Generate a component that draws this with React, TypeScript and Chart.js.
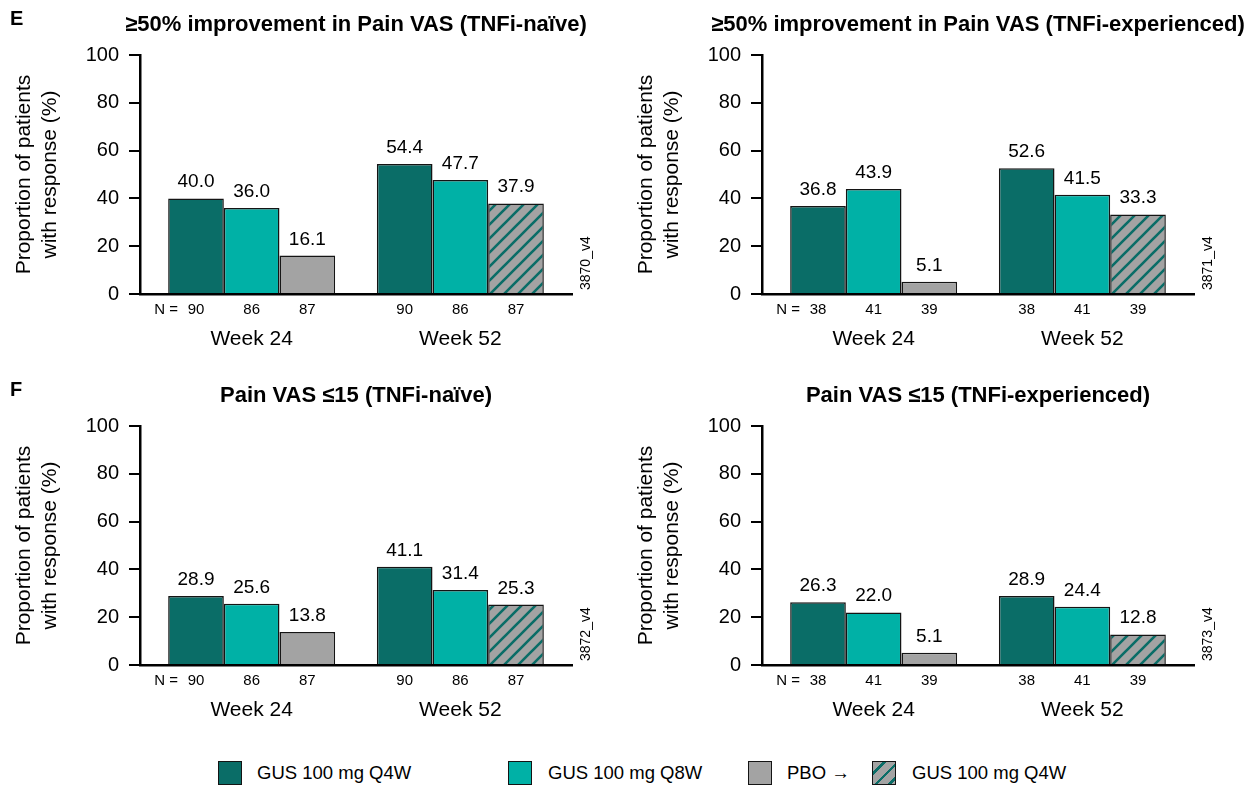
import React, { useEffect, useRef } from 'react';
import { Chart, registerables } from 'chart.js';

Chart.register(...registerables);

// ---------- data ----------
const weeks = ['Week 24', 'Week 52'];
const seriesNames = ['GUS 100 mg Q4W', 'GUS 100 mg Q8W', 'PBO → GUS 100 mg Q4W'];

const eNaiveQ4W = [40.0, 54.4];
const eNaiveQ8W = [36.0, 47.7];
const eNaivePBO = [16.1, 37.9];

const eExpQ4W = [36.8, 52.6];
const eExpQ8W = [43.9, 41.5];
const eExpPBO = [5.1, 33.3];

const fNaiveQ4W = [28.9, 41.1];
const fNaiveQ8W = [25.6, 31.4];
const fNaivePBO = [13.8, 25.3];

const fExpQ4W = [26.3, 28.9];
const fExpQ8W = [22.0, 24.4];
const fExpPBO = [5.1, 12.8];

const nNaive = [90, 86, 87];
const nExp = [38, 41, 39];

const yTickValues = [0, 20, 40, 60, 80, 100];

// ---------- style ----------
const FONT = '"Liberation Sans", Arial, Helvetica, sans-serif';
const DARK = '#0a6d67';
const TEAL = '#00b1a6';
const GRAY = '#a3a3a3';
const BORDER = '#141414';

function makeHatch(): CanvasPattern | string {
  const s = 14;
  const c = document.createElement('canvas');
  c.width = s;
  c.height = s;
  const g = c.getContext('2d');
  if (!g) return GRAY;
  g.fillStyle = GRAY;
  g.fillRect(0, 0, s, s);
  g.strokeStyle = DARK;
  g.lineWidth = 2.6;
  g.beginPath();
  for (const k of [-s, 0, s]) {
    g.moveTo(k - 1, s + 1);
    g.lineTo(k + s + 1, -1);
  }
  g.stroke();
  const p = g.createPattern(c, 'repeat');
  return p || GRAY;
}

type PanelProps = {
  left: number;
  top: number;
  width: number;
  height: number;
  title: string;
  letter?: string;
  code: string;
  q4w: number[];
  q8w: number[];
  pbo: number[];
  n: number[];
};

function Panel(props: PanelProps) {
  const ref = useRef<HTMLCanvasElement | null>(null);
  useEffect(() => {
    const canvas = ref.current;
    if (!canvas) return;
    const hatch = makeHatch();
    const toPts = (vals: number[]) => weeks.map((_, i) => ({ x: i, y: vals[i] }));
    const axisBottom = 294;
    const rightEdge = 572;
    const decor = {
      id: 'decor',
      afterDatasetsDraw(chart: any) {
        const ctx = chart.ctx as CanvasRenderingContext2D;
        const area = chart.chartArea;
        ctx.save();
        ctx.fillStyle = '#000';
        chart.data.datasets.forEach((ds: any, di: number) => {
          const meta = chart.getDatasetMeta(di);
          meta.data.forEach((bar: any, i: number) => {
            const v = ds.data[i].y as number;
            ctx.font = `19px ${FONT}`;
            ctx.textAlign = 'center';
            ctx.textBaseline = 'alphabetic';
            ctx.fillText(v.toFixed(1), bar.x, bar.y - 11);
            ctx.font = `15px ${FONT}`;
            ctx.textBaseline = 'middle';
            ctx.fillText(String(props.n[di]), bar.x, area.bottom + 16);
          });
        });
        const first = chart.getDatasetMeta(0).data[0];
        ctx.font = `15px ${FONT}`;
        ctx.textAlign = 'right';
        ctx.textBaseline = 'middle';
        ctx.fillText('N =', first.x - 18, area.bottom + 16);

        ctx.font = `bold 22px ${FONT}`;
        ctx.textAlign = 'center';
        ctx.fillText(props.title, (area.left + area.right) / 2, 25);

        if (props.letter) {
          ctx.font = `bold 20px ${FONT}`;
          ctx.textAlign = 'left';
          ctx.fillText(props.letter, 10, 19);
        }

        ctx.translate(area.right + 14, area.bottom - 4);
        ctx.rotate(-Math.PI / 2);
        ctx.font = `14px ${FONT}`;
        ctx.textAlign = 'left';
        ctx.textBaseline = 'middle';
        ctx.fillText(props.code, 0, 0);
        ctx.restore();
      },
    };

    const chart = new Chart(canvas, {
      type: 'bar',
      data: {
        datasets: [
          {
            label: seriesNames[0],
            data: toPts(props.q4w),
            backgroundColor: DARK,
            borderColor: BORDER,
            borderWidth: 1.5,
            categoryPercentage: 0.8,
            barPercentage: 1,
          },
          {
            label: seriesNames[1],
            data: toPts(props.q8w),
            backgroundColor: TEAL,
            borderColor: BORDER,
            borderWidth: 1.5,
            categoryPercentage: 0.8,
            barPercentage: 1,
          },
          {
            label: seriesNames[2],
            data: toPts(props.pbo),
            backgroundColor: [GRAY, hatch] as any,
            borderColor: BORDER,
            borderWidth: 1.5,
            categoryPercentage: 0.8,
            barPercentage: 1,
          },
        ],
      },
      options: {
        responsive: false,
        animation: false,
        devicePixelRatio: 1,
        layout: {
          padding: { left: 0, top: 55, right: props.width - rightEdge, bottom: 0 },
        },
        plugins: {
          legend: { display: false },
          tooltip: { enabled: false },
          title: { display: false },
        },
        scales: {
          x: {
            type: 'linear',
            min: -0.535,
            max: 1.535,
            offset: false,
            grid: { display: false, drawTicks: false },
            border: { display: true, color: '#000', width: 2.5 },
            afterBuildTicks: (scale: any) => {
              scale.ticks = weeks.map((_, i) => ({ value: i }));
            },
            afterFit: (scale: any) => {
              scale.height = props.height - axisBottom;
            },
            ticks: {
              autoSkip: false,
              maxRotation: 0,
              padding: 33,
              color: '#000',
              font: { family: FONT, size: 21 },
              callback: (v: any) => weeks[Math.round(Number(v))] ?? '',
            },
          },
          y: {
            type: 'linear',
            min: 0,
            max: 100,
            afterBuildTicks: (scale: any) => {
              scale.ticks = yTickValues.map((v) => ({ value: v }));
            },
            afterFit: (scale: any) => {
              scale.width = 140;
            },
            grid: {
              drawOnChartArea: false,
              drawTicks: true,
              tickLength: 11,
              color: '#000',
              lineWidth: 2,
            },
            border: { display: true, color: '#000', width: 2.5 },
            ticks: {
              padding: 10,
              color: '#000',
              font: { family: FONT, size: 20 },
            },
            title: {
              display: true,
              text: ['Proportion of patients', 'with response (%)'],
              color: '#000',
              font: { family: FONT, size: 21, lineHeight: 1.2 },
              padding: { top: 12, bottom: 0 },
            },
          },
        },
      },
      plugins: [decor],
    } as any);
    return () => chart.destroy();
  }, []);
  return (
    <canvas
      ref={ref}
      width={props.width}
      height={props.height}
      style={{ position: 'absolute', left: props.left, top: props.top, width: props.width, height: props.height }}
    />
  );
}

function LegendItem(props: { x: number; swatch: React.CSSProperties; text: string; textX: number }) {
  return (
    <>
      <div
        style={{
          position: 'absolute',
          left: props.x,
          top: 761,
          width: 24,
          height: 24,
          border: `1.5px solid ${BORDER}`,
          boxSizing: 'border-box',
          ...props.swatch,
        }}
      />
      <div
        style={{
          position: 'absolute',
          left: props.textX,
          top: 761,
          height: 24,
          lineHeight: '24px',
          fontFamily: FONT,
          fontSize: 18.5,
          color: '#000',
          whiteSpace: 'nowrap',
        }}
      >
        {props.text}
      </div>
    </>
  );
}

export default function App() {
  const hatchCss = `repeating-linear-gradient(135deg, ${GRAY} 0px, ${GRAY} 7px, ${DARK} 7px, ${DARK} 9.5px)`;
  return (
    <div style={{ position: 'absolute', left: 0, top: 0, width: 1251, height: 788, background: '#fff', overflow: 'hidden' }}>
      <Panel left={0} top={0} width={621} height={370} letter="E"
        title="≥50% improvement in Pain VAS (TNFi-naïve)" code="3870_v4"
        q4w={eNaiveQ4W} q8w={eNaiveQ8W} pbo={eNaivePBO} n={nNaive} />
      <Panel left={622} top={0} width={629} height={370}
        title="≥50% improvement in Pain VAS (TNFi-experienced)" code="3871_v4"
        q4w={eExpQ4W} q8w={eExpQ8W} pbo={eExpPBO} n={nExp} />
      <Panel left={0} top={371} width={621} height={370} letter="F"
        title="Pain VAS ≤15 (TNFi-naïve)" code="3872_v4"
        q4w={fNaiveQ4W} q8w={fNaiveQ8W} pbo={fNaivePBO} n={nNaive} />
      <Panel left={622} top={371} width={629} height={370}
        title="Pain VAS ≤15 (TNFi-experienced)" code="3873_v4"
        q4w={fExpQ4W} q8w={fExpQ8W} pbo={fExpPBO} n={nExp} />
      <LegendItem x={218} swatch={{ background: DARK }} text={seriesNames[0]} textX={257} />
      <LegendItem x={508} swatch={{ background: TEAL }} text={seriesNames[1]} textX={548} />
      <LegendItem x={748} swatch={{ background: GRAY }} text="PBO →" textX={787} />
      <LegendItem x={872} swatch={{ background: hatchCss }} text="GUS 100 mg Q4W" textX={912} />
    </div>
  );
}
